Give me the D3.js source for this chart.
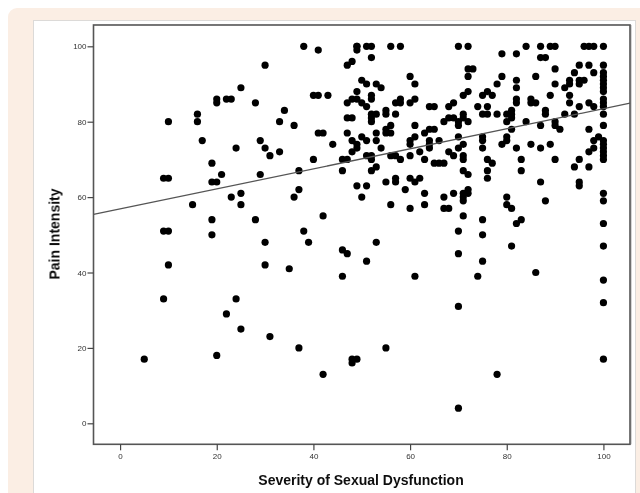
<!DOCTYPE html>
<html><head><meta charset="utf-8">
<script src="https://cdn.jsdelivr.net/npm/d3@7/dist/d3.min.js"></script>
<style>
html,body{margin:0;padding:0;background:#fff;overflow:hidden}
svg{display:block}
</style></head><body>
<svg id="c" width="640" height="493"></svg>
<script>
const xTicks=[0,20,40,60,80,100];
const yTicks=[0,20,40,60,80,100];
const xTitle="Severity of Sexual Dysfunction";
const yTitle="Pain Intensity";
const fitX=[-5.5,105.5];
const fitY=[55.4,84.9];
// pain intensity level, then every severity value seen at that level
const rows=[
[100,[38,49,49,51,52,56,58,70,72,84,87,89,90,96,97,98,100]],
[99,[41,49]],[98,[79,82]],[97,[52,87,88]],[96,[48]],
[95,[30,47,95,97,100]],[94,[72,73,90]],[93,[94,98,100]],
[92,[60,72,79,86,100]],[91,[50,82,93,95,96,100]],
[90,[51,53,61,78,90,93,95,100]],[89,[25,54,82,92,100]],
[88,[49,72,76,100]],[87,[40,41,43,52,71,75,77,89,93]],
[86,[20,22,23,48,49,52,58,61,82,85,100]],
[85,[20,28,47,50,57,58,60,69,82,85,86,93,97,100]],
[84,[51,64,65,68,74,76,95,98,100]],[83,[34,55,81,88]],
[82,[16,52,53,55,57,71,75,76,78,80,81,88,92,94,100]],
[81,[47,48,52,68,69,71,81]],[80,[10,16,33,52,67,70,72,80,84,90]],
[79,[36,56,61,70,87,90,100]],[78,[55,64,65,81,91,97]],
[77,[41,42,47,53,55,56,63]],[76,[50,61,70,75,80,99]],
[75,[17,29,48,51,53,60,64,66,75,80,98,100]],
[74,[44,49,60,64,71,79,85,89,100]],
[73,[24,30,49,54,64,70,75,82,87,98,100]],
[72,[33,48,62,68,97,100]],[71,[31,51,52,56,57,60,69,71,100]],
[70,[40,46,47,52,58,63,71,76,83,90,95,100]],
[69,[19,65,66,67,77]],[68,[53,94,97]],[67,[37,46,52,71,76,83]],
[66,[21,29,72]],[65,[9,10,57,60,62,76]],[64,[19,20,55,57,61,87,95]],
[63,[49,51,95]],[62,[37,59,72]],[61,[25,63,69,71,72,100]],
[60,[23,36,50,67,71,80]],[59,[71,88,100]],[58,[15,25,56,63,80]],
[57,[60,67,68,81]],[55,[42,71]],[54,[19,28,75,83]],[53,[82,100]],
[51,[9,10,38,70]],[50,[19,75]],[48,[30,39,53]],[47,[81,100]],
[46,[46]],[45,[47,70]],[43,[51,75]],[42,[10,30]],[41,[35]],[40,[86]],
[39,[46,61,74]],[38,[100]],[33,[9,24]],[32,[100]],[31,[70]],[29,[22]],
[25,[25]],[23,[31]],[20,[37,55]],[18,[20]],[17,[5,48,49,100]],[16,[48]],
[13,[42,78]],[4,[70]]
];
const points=rows.flatMap(([p,xs])=>xs.map(s=>({s,p})));

const svg=d3.select("#c");
const defs=svg.append("defs");
defs.append("filter").attr("id","soft").attr("x","-5%").attr("y","-5%").attr("width","110%").attr("height","110%")
  .append("feGaussianBlur").attr("stdDeviation",0.4);

// page backdrop
svg.append("rect").attr("x",8).attr("y",8).attr("width",680).attr("height",560).attr("rx",9).attr("fill","#fbeee4");
svg.append("rect").attr("x",33.5).attr("y",20.5).attr("width",602).attr("height",500).attr("fill","#fff").attr("stroke","#dcdad8");

const L=93.5,R=630,T=25,B=444.3;
const x=d3.scaleLinear().domain([-5.5,105.5]).range([L,R]);
const y=d3.scaleLinear().domain([-5.57,105.65]).range([B,T]);

const g=svg.append("g").attr("filter","url(#soft)");
g.append("line").attr("x1",R+1).attr("x2",R+1).attr("y1",T).attr("y2",B).attr("stroke","#aaa").attr("stroke-width",1);
g.append("rect").attr("x",L).attr("y",T).attr("width",R-L).attr("height",B-T)
 .attr("fill","#fff").attr("stroke","#555").attr("stroke-width",1.6);

const xAxis=g.append("g").attr("transform",`translate(0,${B})`)
  .call(d3.axisBottom(x).tickValues(xTicks).tickSize(6).tickPadding(3).tickFormat(d3.format("d")));
const yAxis=g.append("g").attr("transform",`translate(${L},0)`)
  .call(d3.axisLeft(y).tickValues(yTicks).tickSize(6).tickPadding(1).tickFormat(d3.format("d")));
[xAxis,yAxis].forEach(a=>{
  a.select(".domain").remove();
  a.selectAll(".tick line").attr("stroke","#444").attr("stroke-width",1.2);
  a.selectAll(".tick text").attr("fill","#333").style("font","8px 'Liberation Sans Narrow','Liberation Sans',sans-serif");
});

g.append("g").selectAll("circle").data(points).join("circle")
  .attr("cx",d=>x(d.s)).attr("cy",d=>y(d.p)).attr("r",3.6).attr("fill","#000");

g.append("line").attr("x1",x(fitX[0])).attr("y1",y(fitY[0])).attr("x2",x(fitX[1])).attr("y2",y(fitY[1]))
  .attr("stroke","#555").attr("stroke-width",1.3);

g.append("text").attr("x",361).attr("y",485).attr("text-anchor","middle")
  .style("font","bold 14px 'Liberation Sans',sans-serif").attr("fill","#111").text(xTitle);
g.append("text").attr("transform","translate(59.5,234) rotate(-90)").attr("text-anchor","middle")
  .style("font","bold 14px 'Liberation Sans',sans-serif").attr("fill","#111").text(yTitle);
</script>
</body></html>
